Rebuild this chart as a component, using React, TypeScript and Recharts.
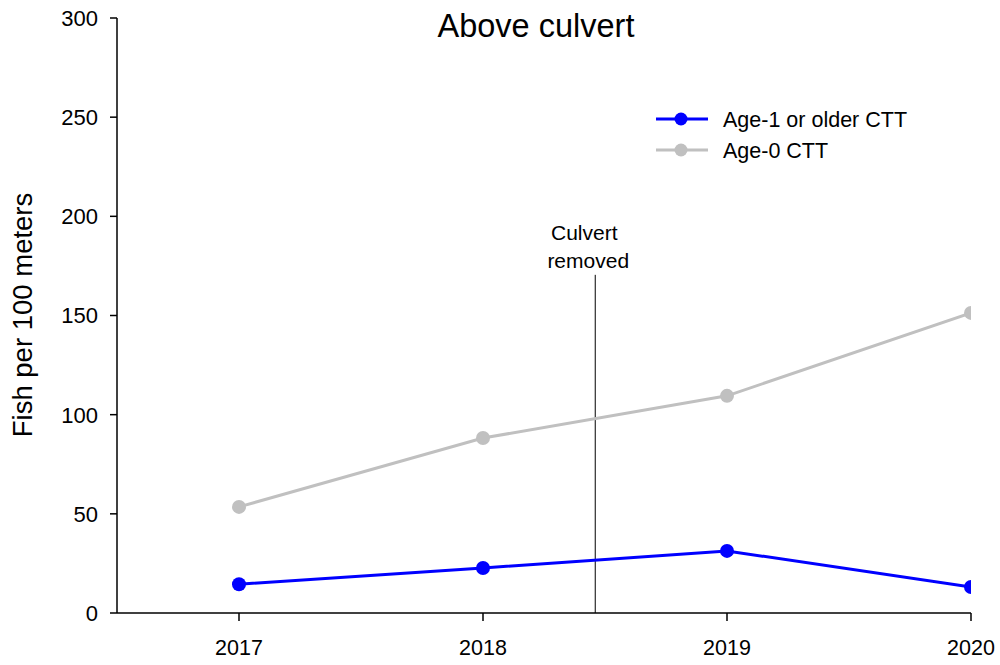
import { LineChart, Line, XAxis, YAxis, ReferenceLine } from 'recharts';

const years = [2017, 2018, 2019, 2020];
const olderCtt = [14.5, 22.7, 31.3, 13.1];
const youngCtt = [53.5, 88.2, 109.5, 151.3];
const yTicks = [0, 50, 100, 150, 200, 250, 300];

// year the culvert was pulled out, and how high its marker line reaches
const culvertYear = 2018.46;
const culvertLineTop = 170.5;

const series = [
  { key: 'older', name: 'Age-1 or older CTT', color: '#0000ff' },
  { key: 'young', name: 'Age-0 CTT', color: '#c0c0c0' },
];

const data = years.map((year, i) => ({ year, older: olderCtt[i], young: youngCtt[i] }));

const font = 'Arial, "Liberation Sans", sans-serif';

function XTick(props: any) {
  const { x, y, payload } = props;
  return (
    <text x={x} y={y + 32} textAnchor="middle" fontSize={21.5} fontFamily={font} fill="#000">
      {payload.value}
    </text>
  );
}

function YTick(props: any) {
  const { x, y, payload } = props;
  return (
    <text x={x - 10} y={y} dy="0.36em" textAnchor="end" fontSize={22} fontFamily={font} fill="#000">
      {payload.value}
    </text>
  );
}

function CulvertLabel(props: any) {
  const x = props.viewBox?.x ?? 0;
  return (
    <text textAnchor="middle" fontSize={21} fontFamily={font} fill="#000">
      <tspan x={x - 11} y={240}>Culvert</tspan>
      <tspan x={x - 7} y={268}>removed</tspan>
    </text>
  );
}

// title, axis name and legend sit on top of the chart svg
function Overlay() {
  return (
    <svg width={1000} height={665} style={{ position: 'absolute', left: 0, top: 0, pointerEvents: 'none' }}>
      <text x={536} y={37} textAnchor="middle" fontSize={32.5} fontFamily={font} fill="#000">
        Above culvert
      </text>
      <text
        transform="translate(32, 315) rotate(-90)"
        textAnchor="middle"
        fontSize={27.5}
        fontFamily={font}
        fill="#000"
      >
        Fish per 100 meters
      </text>
      {series.map((s, i) => (
        <g key={s.key} transform={`translate(656, ${119 + i * 31})`}>
          <line x1={0} x2={52} y1={0} y2={0} stroke={s.color} strokeWidth={3} />
          <circle cx={25} cy={0} r={6.5} fill={s.color} />
          <text x={67} y={8} fontSize={21.5} fontFamily={font} fill="#000">
            {s.name}
          </text>
        </g>
      ))}
    </svg>
  );
}

export default function App() {
  return (
    <div style={{ position: 'absolute', left: 0, top: 0, width: 1000, height: 665, background: '#fff' }}>
      <LineChart width={1000} height={665} data={data} margin={{ top: 18, right: 29, bottom: 0, left: 57 }}>
        <XAxis
          dataKey="year"
          type="number"
          domain={[2016.5, 2020]}
          ticks={years}
          allowDataOverflow
          height={52}
          tickSize={8}
          stroke="#000"
          strokeWidth={1.5}
          tick={<XTick />}
        />
        <YAxis
          domain={[0, 300]}
          ticks={yTicks}
          width={60}
          tickSize={7}
          stroke="#000"
          strokeWidth={1.5}
          tick={<YTick />}
        />
        <ReferenceLine
          segment={[
            { x: culvertYear, y: 0 },
            { x: culvertYear, y: culvertLineTop },
          ]}
          stroke="#000"
          strokeWidth={1}
          label={<CulvertLabel />}
        />
        {series
          .slice()
          .reverse()
          .map((s) => (
            <Line
              key={s.key}
              dataKey={s.key}
              name={s.name}
              type="linear"
              stroke={s.color}
              strokeWidth={3}
              dot={{ r: 7, fill: s.color, stroke: s.color, strokeWidth: 0 }}
              activeDot={false}
              isAnimationActive={false}
            />
          ))}
      </LineChart>
      <Overlay />
    </div>
  );
}
